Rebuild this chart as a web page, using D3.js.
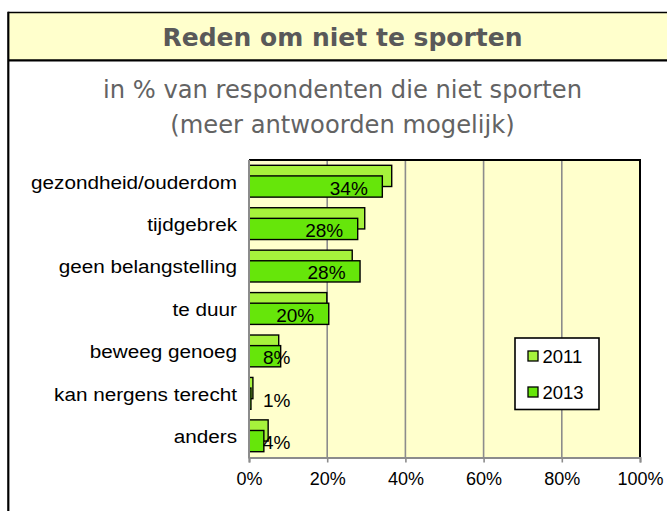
<!DOCTYPE html>
<html><head><meta charset="utf-8">
<script src="https://cdn.jsdelivr.net/npm/d3@7"></script>
<style>html,body{margin:0;padding:0;background:#fff;overflow:hidden}</style>
</head><body>
<script>
const title = "Reden om niet te sporten";
const subtitleLines = ["in % van respondenten die niet sporten", "(meer antwoorden mogelijk)"];
const categories = ["gezondheid/ouderdom","tijdgebrek","geen belangstelling","te duur","beweeg genoeg","kan nergens terecht","anders"];
const seriesNames = ["2011","2013"];
const values2011 = [36.5, 29.6, 26.4, 19.9, 7.6, 1.0, 4.9];
const values2013 = [34.1, 27.8, 28.4, 20.4, 8.1, 0.5, 3.8];
const xTicks = [0, 20, 40, 60, 80, 100];

const W = 667, H = 511;
const colors = {"2011": "#A6F23C", "2013": "#66E60A"};
const svg = d3.select("body").append("svg").attr("width", W).attr("height", H);

// frame
svg.append("rect").attr("x",0).attr("y",0).attr("width",W).attr("height",H).attr("fill","#fff");
svg.append("rect").attr("x",8).attr("y",12.5).attr("width",W).attr("height",47.5).attr("fill","#FFFFCC");
svg.append("line").attr("x1",8).attr("x2",W).attr("y1",12.5).attr("y2",12.5).attr("stroke","#000").attr("stroke-width",1.6);
svg.append("line").attr("x1",8).attr("x2",W).attr("y1",60.3).attr("y2",60.3).attr("stroke","#000").attr("stroke-width",2.2);
svg.append("line").attr("x1",8.3).attr("x2",8.3).attr("y1",11.7).attr("y2",H).attr("stroke","#000").attr("stroke-width",2.2);

const cx = 342.5;
svg.append("text").attr("x",cx).attr("y",46).attr("text-anchor","middle")
  .attr("font-family","DejaVu Sans").attr("font-weight","bold").attr("font-size",25)
  .attr("fill","#595959").text(title);
svg.selectAll("text.sub").data(subtitleLines).join("text").attr("class","sub")
  .attr("x",cx).attr("y",(d,i)=>98+i*35).attr("text-anchor","middle")
  .attr("font-family","DejaVu Sans").attr("font-size",24.2).attr("fill","#636363").text(d=>d);

// plot
const x = d3.scaleLinear().domain([0,100]).range([249,640]);
const y = d3.scaleBand().domain(categories).range([160,457]);
const bw = y.bandwidth();

svg.append("rect").attr("x",x(0)).attr("y",160).attr("width",x(100)-x(0)).attr("height",297).attr("fill","#FFFFCC");
svg.selectAll("line.grid").data(xTicks.filter(t=>t>0&&t<100)).join("line").attr("class","grid")
  .attr("x1",d=>x(d)).attr("x2",d=>x(d)).attr("y1",160).attr("y2",457)
  .attr("stroke","#8c8c8c").attr("stroke-width",1.6);
// top/right border
svg.append("path").attr("d",`M${x(0)},160H${x(100)}V457`).attr("fill","none").attr("stroke","#000").attr("stroke-width",2);

const rows = categories.map((c,i)=>({c, v1: values2011[i], v2: values2013[i]}));
const g = svg.append("g");
g.selectAll("rect.b11").data(rows).join("rect").attr("class","b11")
  .attr("x",x(0)).attr("y",d=>y(d.c)+bw/2-bw*0.375).attr("width",d=>x(d.v1)-x(0)).attr("height",bw*0.5)
  .attr("fill",colors["2011"]).attr("stroke","#000").attr("stroke-width",1.4);
g.selectAll("rect.b13").data(rows).join("rect").attr("class","b13")
  .attr("x",x(0)).attr("y",d=>y(d.c)+bw/2-bw*0.125).attr("width",d=>x(d.v2)-x(0)).attr("height",bw*0.5)
  .attr("fill",colors["2013"]).attr("stroke","#000").attr("stroke-width",1.4);

// axes
const xAxis = svg.append("g").attr("transform","translate(0,457.5)")
  .call(d3.axisBottom(x).tickValues(xTicks).tickSize(5).tickPadding(10).tickFormat(d=>d+"%"));
xAxis.select(".domain").attr("stroke","#8c8c8c").attr("stroke-width",2);
xAxis.selectAll(".tick line").attr("stroke","#8c8c8c").attr("stroke-width",1.6);
xAxis.selectAll(".tick text").attr("font-family","Liberation Sans, Arial").attr("font-size",18).attr("fill","#000");
svg.append("line").attr("x1",x(0)).attr("x2",x(0)).attr("y1",160).attr("y2",458.5).attr("stroke","#8c8c8c").attr("stroke-width",2);

// category labels
svg.selectAll("text.cat").data(categories).join("text").attr("class","cat")
  .attr("transform",d=>`translate(237,${y(d)+bw/2+7.3}) scale(1.09,1)`)
  .attr("text-anchor","end").attr("font-family","Liberation Sans, Arial").attr("font-size",19)
  .attr("fill","#000").text(d=>d);

// data labels (2013)
const lab = svg.selectAll("text.dl").data(rows).join("text").attr("class","dl")
  .attr("font-family","Liberation Sans, Arial").attr("font-size",19).attr("fill","#000")
  .attr("y",d=>y(d.c)+bw/2+bw*0.125+8)
  .text(d=>Math.round(d.v2)+"%");
lab.each(function(d){
  const w = this.getComputedTextLength();
  let left = x(d.v2) - 14.5 - w;
  if (left < x(0) + 14) left = x(0) + 14;
  d3.select(this).attr("x", left);
});

// legend
const lg = svg.append("g");
lg.append("rect").attr("x",515).attr("y",338).attr("width",84).attr("height",71.5)
  .attr("fill","#fff").attr("stroke","#000").attr("stroke-width",1.6);
seriesNames.forEach((s,i)=>{
  lg.append("rect").attr("x",528).attr("y",351+i*36).attr("width",10).attr("height",10)
    .attr("fill",colors[s]).attr("stroke","#000").attr("stroke-width",1.3);
  lg.append("text").attr("x",542.5).attr("y",362.5+i*36).attr("font-family","Liberation Sans, Arial")
    .attr("font-size",18.5).attr("fill","#000").text(s);
});
</script>
</body></html>
